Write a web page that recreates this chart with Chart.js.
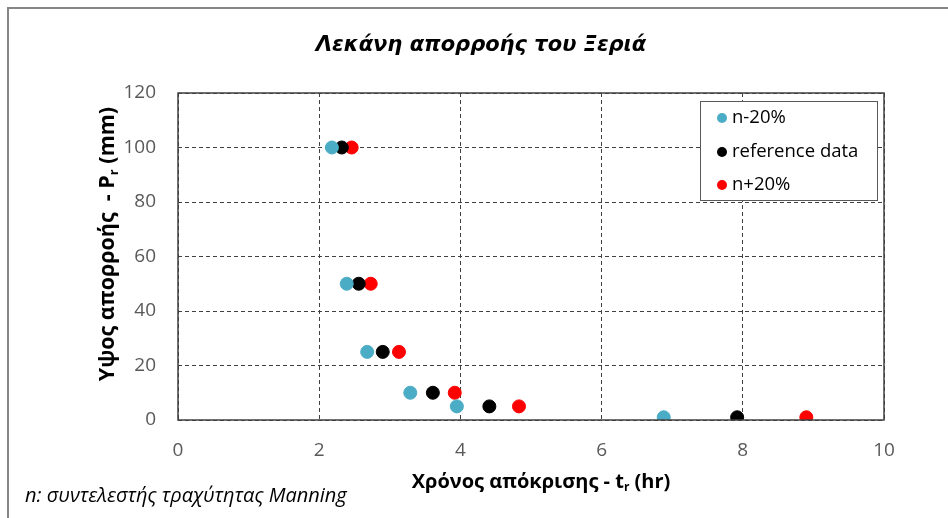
<!DOCTYPE html>
<html><head><meta charset="utf-8">
<script src="https://cdn.jsdelivr.net/npm/chart.js@4/dist/chart.umd.min.js"></script>
<style>html,body{margin:0;padding:0;background:#fff}#wrap{width:948px;height:518px;position:relative}</style>
</head><body><div id="wrap"><canvas id="c" width="948" height="518"></canvas></div>
<script>
const chartTitle = "Λεκάνη απορροής του Ξεριά";
const xTitle = ["Χρόνος απόκρισης - t", "r", " (hr)"];
const yTitle = ["Υψος απορροής  - P", "r", " (mm)"];
const footnote = "n: συντελεστής τραχύτητας Manning";
const seriesNames = ["n-20%", "reference data", "n+20%"];
const runoffDepth = [100, 50, 25, 10, 5, 1];
const tMinus20 = [2.18, 2.39, 2.68, 3.29, 3.95, 6.88];
const tReference = [2.32, 2.56, 2.90, 3.61, 4.41, 7.92];
const tPlus20 = [2.46, 2.73, 3.13, 3.92, 4.83, 8.90];
const seriesColors = ["#4BACC6", "#000000", "#FF0000"];

const pts = (xs) => xs.map((x, i) => ({x: x, y: runoffDepth[i]}));

function drawSub(ctx, parts, x, y, bold, size) {
  const f = (bold ? "bold " : "") + size + "px 'Open Sans'";
  const fs = (bold ? "bold " : "") + Math.round(size * 0.6) + "px 'Open Sans'";
  ctx.font = f; const w0 = ctx.measureText(parts[0]).width;
  ctx.font = fs; const w1 = ctx.measureText(parts[1]).width;
  ctx.font = f; const w2 = ctx.measureText(parts[2]).width;
  const total = w0 + w1 + w2;
  let sx = x - total / 2;
  ctx.textBaseline = "middle"; ctx.textAlign = "left";
  ctx.font = f; ctx.fillText(parts[0], sx, y);
  ctx.font = fs; ctx.fillText(parts[1], sx + w0, y + size * 0.3);
  ctx.font = f; ctx.fillText(parts[2], sx + w0 + w1, y);
}

const deco = {
  id: "deco",
  beforeDraw(chart) {
    const ctx = chart.ctx;
    ctx.save();
    ctx.fillStyle = "#fff"; ctx.fillRect(0, 0, 948, 518);
    ctx.strokeStyle = "#868686"; ctx.lineWidth = 2;
    ctx.strokeRect(8, 8, 960, 530);
    ctx.restore();
  },
  afterDraw(chart) {
    const ctx = chart.ctx, a = chart.chartArea;
    ctx.save();
    ctx.strokeStyle = "#404040"; ctx.lineWidth = 1.5;
    ctx.strokeRect(a.left, a.top, a.right - a.left, a.bottom - a.top);
    ctx.fillStyle = "#000";
    ctx.font = "italic bold 21px 'DejaVu Sans'";
    ctx.textAlign = "center"; ctx.textBaseline = "middle";
    ctx.fillText(chartTitle, 481, 46);
    drawSub(ctx, xTitle, 541, 482, true, 20);
    ctx.translate(108, 244); ctx.rotate(-Math.PI / 2);
    drawSub(ctx, yTitle, 0, 0, true, 21.5);
    ctx.restore();
    ctx.save();
    ctx.fillStyle = "#000";
    ctx.font = "italic 20px 'Open Sans'";
    ctx.textAlign = "left"; ctx.textBaseline = "middle";
    ctx.fillText(footnote, 25, 496);
    ctx.restore();
  }
};

new Chart(document.getElementById("c"), {
  type: "scatter",
  data: {
    datasets: [
      {label: seriesNames[0], data: pts(tMinus20), backgroundColor: seriesColors[0], borderColor: seriesColors[0], pointRadius: 6.5, pointHoverRadius: 6.5},
      {label: seriesNames[1], data: pts(tReference), backgroundColor: seriesColors[1], borderColor: seriesColors[1], pointRadius: 6.5, pointHoverRadius: 6.5},
      {label: seriesNames[2], data: pts(tPlus20), backgroundColor: seriesColors[2], borderColor: seriesColors[2], pointRadius: 6.5, pointHoverRadius: 6.5}
    ]
  },
  options: {
    responsive: false, animation: false,
    layout: {padding: {left: 0, top: 93, right: 64, bottom: 0}},
    plugins: {
      legend: {display: false},
      tooltip: {enabled: false}
    },
    scales: {
      x: {
        type: "linear", min: 0, max: 10,
        ticks: {stepSize: 2, color: "#595959", font: {family: "'Open Sans'", size: 19}, padding: 19},
        grid: {color: "#404040", lineWidth: 1, drawTicks: false},
        border: {display: false, dash: [4, 3]},
        afterFit(s) { s.height = 98; }
      },
      y: {
        min: 0, max: 120,
        ticks: {stepSize: 20, color: "#595959", font: {family: "'Open Sans'", size: 19}, padding: 22},
        grid: {color: "#404040", lineWidth: 1, drawTicks: false},
        border: {display: false, dash: [4, 3]},
        afterFit(s) { s.width = 178; }
      }
    }
  },
  plugins: [deco, {
    id: "legendBox",
    afterDraw(chart) {
      const ctx = chart.ctx;
      ctx.save();
      ctx.fillStyle = "#fff"; ctx.fillRect(700, 101, 177, 99);
      ctx.strokeStyle = "#595959"; ctx.lineWidth = 1;
      ctx.strokeRect(700.5, 101.5, 177, 99);
      ctx.font = "18.5px 'Open Sans'"; ctx.textBaseline = "middle"; ctx.textAlign = "left";
      const ys = [118, 152, 185];
      seriesNames.forEach((n, i) => {
        ctx.fillStyle = seriesColors[i];
        ctx.beginPath(); ctx.arc(722, ys[i], 5, 0, Math.PI * 2); ctx.fill();
        ctx.fillStyle = "#000"; ctx.fillText(n, 732, ys[i]);
      });
      ctx.restore();
    }
  }]
});
</script></body></html>
